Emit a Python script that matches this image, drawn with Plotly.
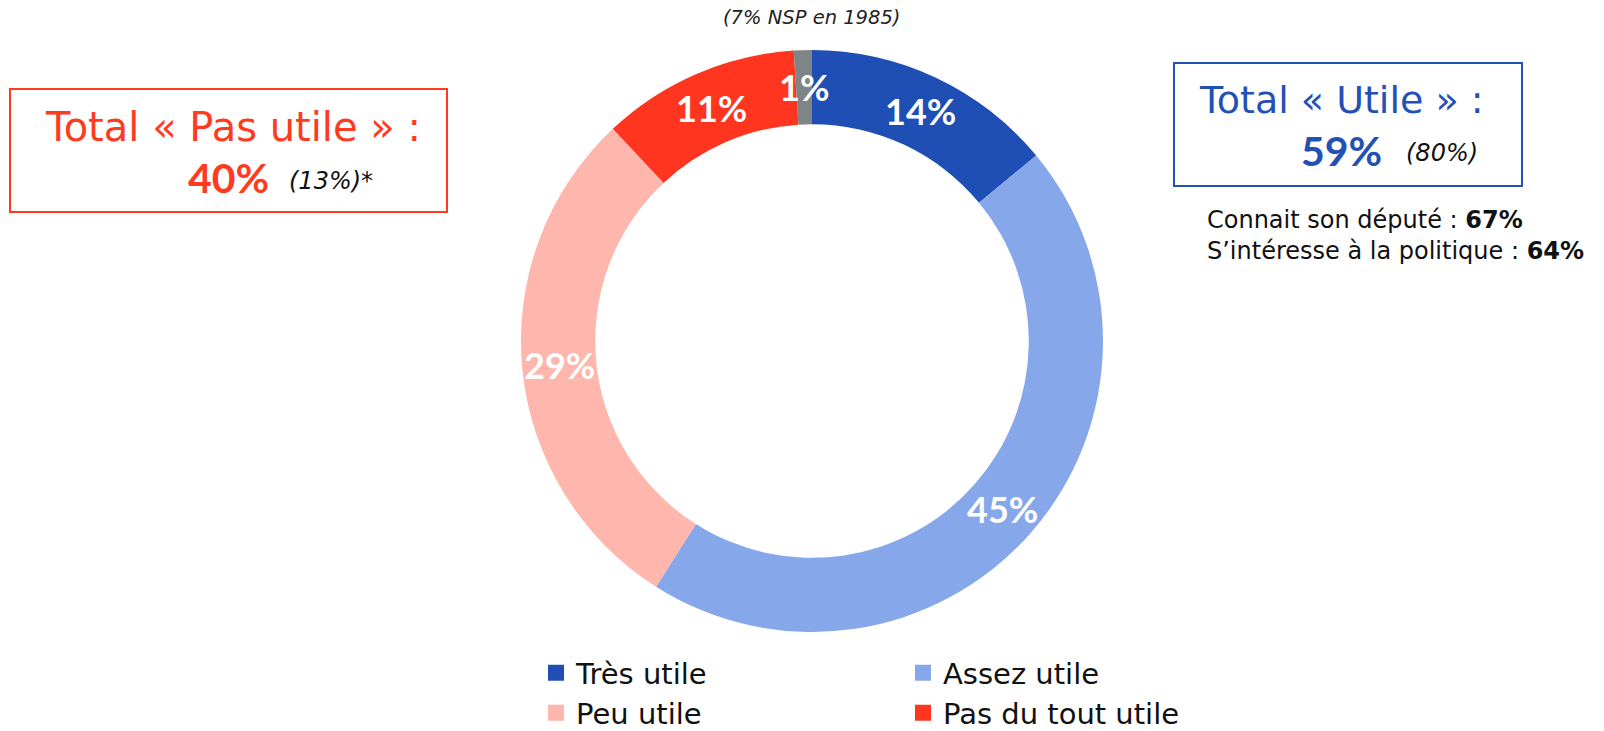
import math
import plotly.graph_objects as go

# ---- data ----
labels = ["Très utile", "Assez utile", "Peu utile", "Pas du tout utile", "NSP"]
values = [14, 45, 29, 11, 1]
colors = ["#1F4FB4", "#86A8EA", "#FFB6AD", "#FF3520", "#7F8487"]
legend_rows = [["Très utile", "Assez utile"], ["Peu utile", "Pas du tout utile"]]

total_pas_utile = "40%"
total_pas_utile_1985 = "(13%)*"
total_utile = "59%"
total_utile_1985 = "(80%)"
connait_depute = "67%"
interesse_politique = "64%"
nsp_1985_note = "(7% NSP en 1985)"

W, H = 1604, 731
FONT = "DejaVu Sans"
NUMFONT = "Lato"
RED = "#FF3B1F"
BLUE = "#2350B5"


def px(xp):
    return xp / W


def py(yp):
    return 1 - yp / H


fig = go.Figure()

cx, cy, R = 812, 341, 291
HOLE = 0.745
fig.add_trace(go.Pie(
    labels=labels, values=values, sort=False, direction="clockwise",
    hole=HOLE,
    marker=dict(colors=colors, line=dict(width=0)),
    textinfo="none",
    showlegend=False,
    domain=dict(x=[px(cx - R), px(cx + R)], y=[py(cy + R), py(cy - R)]),
    hoverinfo="label+percent",
))

# slice labels placed at the middle of each ring segment (derived from the values)
total = sum(values)
r_mid = R * (1 + HOLE) / 2
annotations = []
cum = 0
for v in values:
    theta = 2 * math.pi * (cum + v / 2) / total
    cum += v
    annotations.append(dict(
        text=f"<b>{v}%</b>", x=px(cx + r_mid * math.sin(theta)), y=py(cy - r_mid * math.cos(theta)),
        xanchor="center", yanchor="middle",
        font=dict(family=NUMFONT, size=36, color="white"),
    ))

color_of = dict(zip(labels, colors))
for i, row in enumerate(legend_rows):
    lg = "legend" if i == 0 else "legend2"
    for lab in row:
        fig.add_trace(go.Scatter(
            x=[None], y=[None], mode="markers", name=lab, legend=lg,
            marker=dict(symbol="square", size=16, color=color_of[lab]),
            showlegend=True,
        ))

legend_common = dict(
    orientation="h", xanchor="left", yanchor="middle",
    font=dict(family=FONT, size=29, color="#111"),
    entrywidth=322, entrywidthmode="pixels",
    bgcolor="rgba(0,0,0,0)", borderwidth=0,
)

annotations += [
    dict(text=f"<i>{nsp_1985_note}</i>", x=px(811), y=py(17), xanchor="center", yanchor="middle",
         font=dict(family=FONT, size=19.5, color="#222")),
    dict(text="Total « Pas utile » :", x=px(233), y=py(127), xanchor="center", yanchor="middle",
         font=dict(family=FONT, size=40, color=RED)),
    dict(text=f"<b>{total_pas_utile}</b>", x=px(186), y=py(178), xanchor="left", yanchor="middle",
         font=dict(family=NUMFONT, size=41, color=RED)),
    dict(text=f"<i>{total_pas_utile_1985}</i>", x=px(287), y=py(181), xanchor="left", yanchor="middle",
         font=dict(family=FONT, size=24, color="#111")),
    dict(text="Total « Utile » :", x=px(1341), y=py(100), xanchor="center", yanchor="middle",
         font=dict(family=FONT, size=38, color=BLUE)),
    dict(text=f"<b>{total_utile}</b>", x=px(1299), y=py(150), xanchor="left", yanchor="middle",
         font=dict(family=NUMFONT, size=41, color=BLUE)),
    dict(text=f"<i>{total_utile_1985}</i>", x=px(1404), y=py(153), xanchor="left", yanchor="middle",
         font=dict(family=FONT, size=24, color="#111")),
    dict(text=f"Connait son député : <b>{connait_depute}</b>", x=px(1205), y=py(220),
         xanchor="left", yanchor="middle", font=dict(family=FONT, size=24, color="#111")),
    dict(text=f"S’intéresse à la politique : <b>{interesse_politique}</b>", x=px(1205), y=py(251),
         xanchor="left", yanchor="middle", font=dict(family=FONT, size=24, color="#111")),
]
for a in annotations:
    a.update(xref="paper", yref="paper", showarrow=False)

shapes = [
    dict(type="rect", xref="paper", yref="paper", x0=px(10), x1=px(447), y0=py(212), y1=py(89),
         line=dict(color=RED, width=2)),
    dict(type="rect", xref="paper", yref="paper", x0=px(1174), x1=px(1522), y0=py(186), y1=py(63),
         line=dict(color=BLUE, width=2)),
]

fig.update_layout(
    width=W, height=H,
    margin=dict(l=0, r=0, t=0, b=0, autoexpand=False),
    paper_bgcolor="white", plot_bgcolor="white",
    xaxis=dict(visible=False), yaxis=dict(visible=False),
    legend=dict(x=px(536), y=py(673), **legend_common),
    legend2=dict(x=px(536), y=py(713), **legend_common),
    annotations=annotations, shapes=shapes,
    font=dict(family=FONT),
)

fig.write_html("out.html", post_script="document.body.style.margin='0';",
               config={"displayModeBar": False})
